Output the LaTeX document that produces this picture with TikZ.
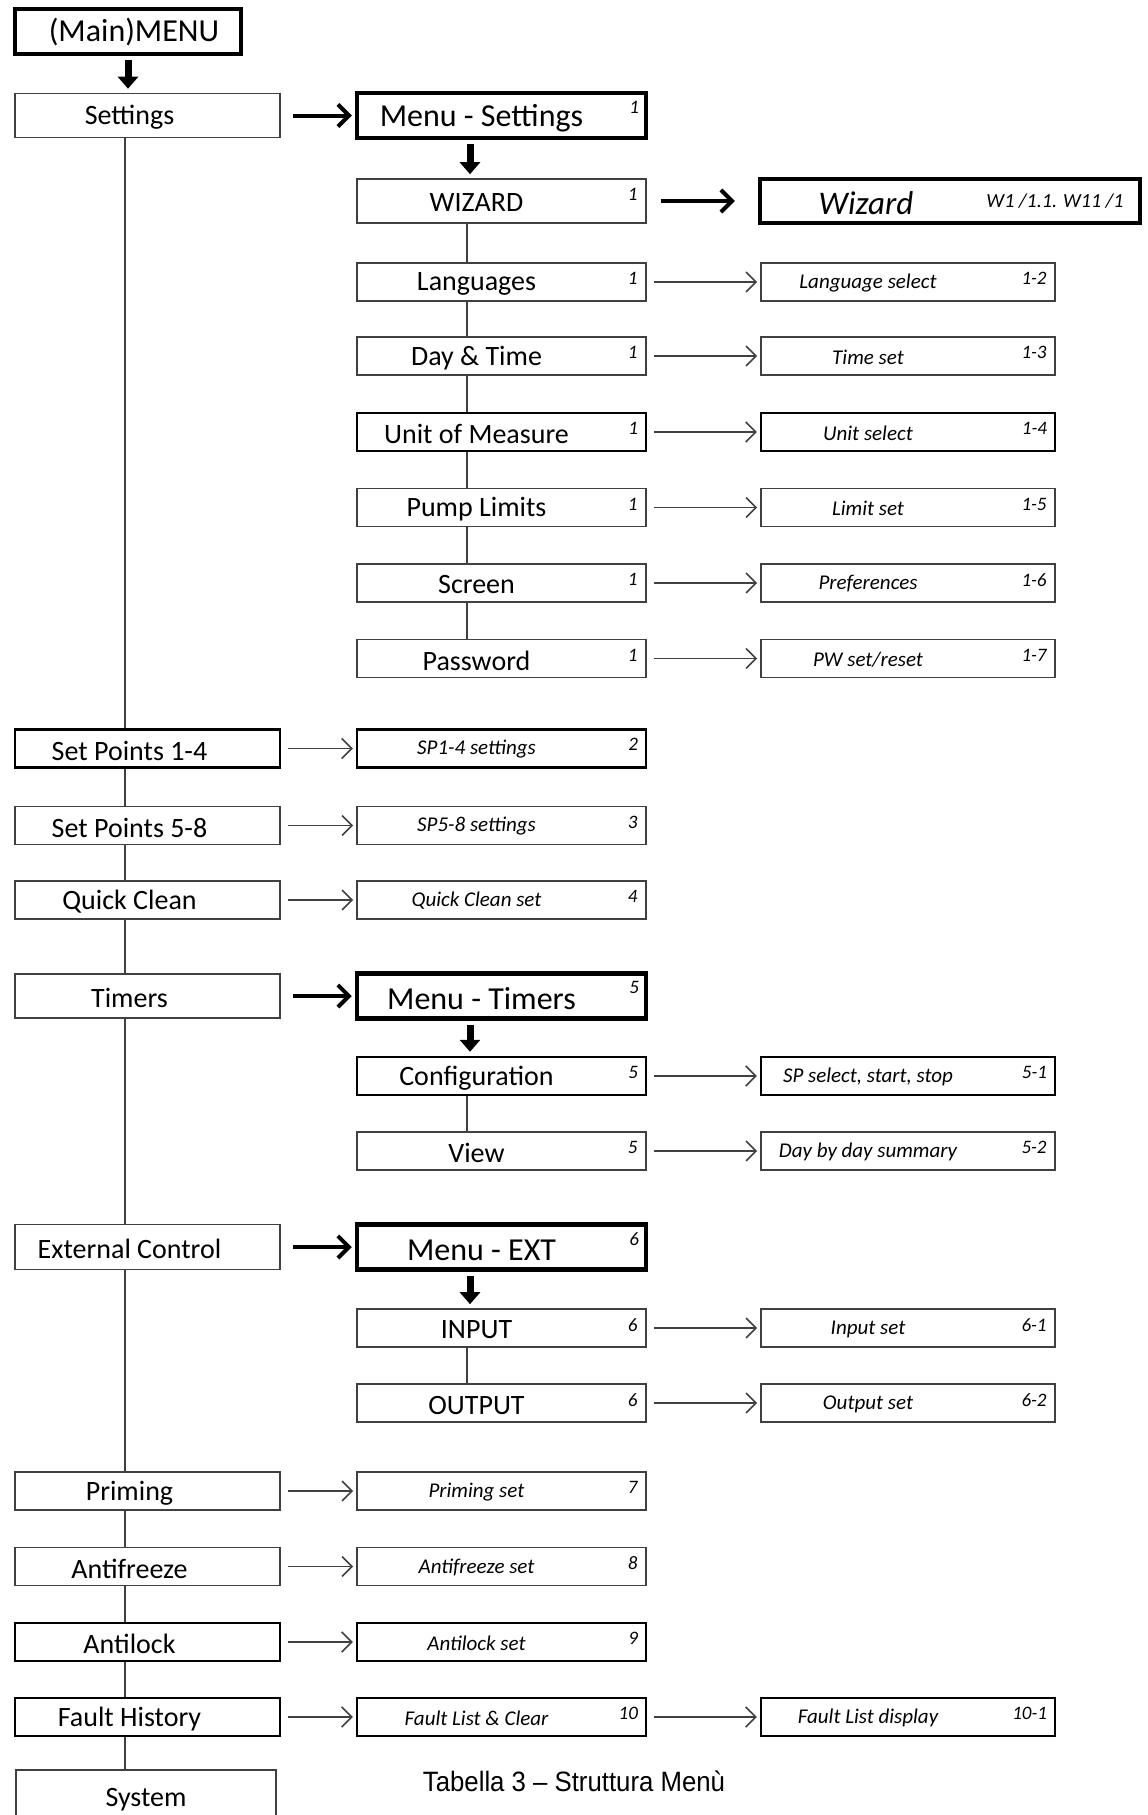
\documentclass[tikz,border=0pt]{standalone}
\usepackage{fontspec}
\setmainfont{Carlito}
\newfontfamily\capfont[FakeStretch=0.92]{Liberation Sans}
\usetikzlibrary{arrows.meta}

\tikzset{
  % caselle
  box/.style={draw=black!75, line width=1.6pt, fill=white, inner sep=0pt, minimum height=38pt},
  heavy/.style={draw=black, line width=2.4pt},
  menubox/.style={draw=black, line width=4.5pt, minimum height=45pt},
  % testi
  txt/.style={font=\fontsize{28}{30}\selectfont, inner sep=0pt, anchor=base, yshift=-2pt},
  bigtxt/.style={font=\fontsize{32}{34}\selectfont, inner sep=0pt, anchor=base, yshift=-3pt},
  itxt/.style={font=\fontsize{21}{24}\selectfont\itshape, inner sep=0pt, anchor=base, yshift=-1pt},
  num/.style={font=\fontsize{19}{22}\selectfont\itshape, inner sep=0pt, anchor=north east, xshift=-9pt, yshift=-10pt},
  % colonne
  lcol/.style={box, minimum width=265pt, label={[txt, xshift=-18pt]center:{#1}}},
  mcol/.style 2 args={box, minimum width=289pt, label={[txt, xshift=-25pt]center:{#1}}, label={[num]north east:{#2}}},
  mset/.style 2 args={box, minimum width=289pt, label={[itxt, xshift=-25pt]center:{#1}}, label={[num]north east:{#2}}},
  mmenu/.style 2 args={box, menubox, minimum width=289pt, label={[bigtxt, xshift=-20pt]center:{#1}}, label={[num]north east:{#2}}},
  rcol/.style 2 args={box, minimum width=294pt, label={[itxt, xshift=-40pt]center:{#1}}, label={[num]north east:{#2}}},
  % collegamenti
  link/.style={draw=black!75, line width=1.4pt},
  tarr/.style={draw=black!75, line width=1.6pt, -{Straight Barb[length=10pt, width=20pt]}, shorten <=7pt, shorten >=3pt},
  barr/.style={line width=4pt, -{Straight Barb[length=11pt, width=22pt]}, shorten <=12pt, shorten >=3pt},
  darr/.style={line width=7pt, -{Triangle[length=12pt, width=20pt]}, shorten <=4pt, shorten >=4pt},
}

\begin{document}
\begin{tikzpicture}[x=1pt, y=-1pt]
  \clip (0,0) rectangle (1148,1815);
  % colonna sinistra
  \node[box, menubox, minimum width=226pt, label={[bigtxt, xshift=6pt, yshift=2pt]center:{(Main)MENU}}] (main) at (128,31.5) {};
  \node[lcol=Settings, minimum height=44pt] (settings) at (147.5,115.5) {};
  \node[lcol={Set Points 1-4}, heavy] (sp14) at (147.5,748.5) {};
  \node[lcol={Set Points 5-8}] (sp58) at (147.5,825.5) {};
  \node[lcol={Quick Clean}] (quick) at (147.5,900) {};
  \node[lcol=Timers, minimum height=44pt] (timers) at (147.5,996) {};
  \node[lcol={External Control}, minimum height=45pt] (ext) at (147.5,1247) {};
  \node[lcol=Priming] (priming) at (147.5,1491) {};
  \node[lcol=Antifreeze] (antifreeze) at (147.5,1566.5) {};
  \node[lcol=Antilock, heavy] (antilock) at (147.5,1642) {};
  \node[lcol={Fault History}, heavy] (fault) at (147.5,1717) {};
  \node[box, minimum width=260pt, minimum height=60pt, label={[txt, yshift=2pt]center:System}] (system) at (146,1800) {};

  % colonna centrale
  \node[mmenu={Menu - Settings}{1}] (msettings) at (501.5,115.5) {};
  \node[mcol={WIZARD}{1}, minimum height=44pt] (wizard) at (501.5,201) {};
  \node[mcol={Languages}{1}] (lang) at (501.5,282) {};
  \node[mcol={Day \& Time}{1}] (daytime) at (501.5,356) {};
  \node[mcol={Unit of Measure}{1}, heavy] (unit) at (501.5,432) {};
  \node[mcol={Pump Limits}{1}] (pump) at (501.5,507.5) {};
  \node[mcol={Screen}{1}] (screen) at (501.5,583) {};
  \node[mcol={Password}{1}] (password) at (501.5,658.5) {};
  \node[mset={SP1-4 settings}{2}, heavy] (sp14set) at (501.5,748.5) {};
  \node[mset={SP5-8 settings}{3}] (sp58set) at (501.5,825.5) {};
  \node[mset={Quick Clean set}{4}] (quickset) at (501.5,900) {};
  \node[mmenu={Menu - Timers}{5}] (mtimers) at (501.5,996) {};
  \node[mcol={Configuration}{5}, heavy] (config) at (501.5,1076) {};
  \node[mcol={View}{5}] (view) at (501.5,1151) {};
  \node[mmenu={Menu - EXT}{6}] (mext) at (501.5,1247) {};
  \node[mcol={INPUT}{6}] (input) at (501.5,1328) {};
  \node[mcol={OUTPUT}{6}] (output) at (501.5,1403) {};
  \node[mset={Priming set}{7}] (primingset) at (501.5,1491) {};
  \node[mset={Antifreeze set}{8}] (antifreezeset) at (501.5,1566.5) {};
  \node[mset={Antilock set}{9}, heavy] (antilockset) at (501.5,1642) {};
  \node[mset={Fault List \& Clear}{10}, heavy] (faultset) at (501.5,1717) {};

  % colonna destra
  \node[box, menubox, minimum width=380pt, minimum height=44pt,
    label={[font=\fontsize{33}{36}\selectfont\itshape, inner sep=0pt, anchor=base, xshift=-84pt, yshift=-2pt]center:Wizard},
    label={[font=\fontsize{20}{22}\selectfont\itshape, inner sep=0pt, xshift=105pt]center:{W1 /1.1. W11 /1}}] (wizbox) at (950,201) {};
  \node[rcol={Language select}{1-2}] (langsel) at (908,282) {};
  \node[rcol={Time set}{1-3}] (timeset) at (908,356) {};
  \node[rcol={Unit select}{1-4}, heavy] (unitsel) at (908,432) {};
  \node[rcol={Limit set}{1-5}] (limitset) at (908,507.5) {};
  \node[rcol={Preferences}{1-6}] (prefs) at (908,583) {};
  \node[rcol={PW set/reset}{1-7}] (pwset) at (908,658.5) {};
  \node[rcol={SP select, start, stop}{5-1}, heavy] (spsel) at (908,1076) {};
  \node[rcol={Day by day summary}{5-2}] (summary) at (908,1151) {};
  \node[rcol={Input set}{6-1}] (inset) at (908,1328) {};
  \node[rcol={Output set}{6-2}] (outset) at (908,1403) {};
  \node[rcol={Fault List display}{10-1}, heavy] (faultdisp) at (908,1717) {};

  % linee verticali
  \coordinate (lsp) at (125,0);
  \coordinate (msp) at (467,0);
  \coordinate (dsp) at (470,0);
  \foreach \a/\b in {settings/sp14, sp14/sp58, sp58/quick, quick/timers, timers/ext, ext/priming,
                     priming/antifreeze, antifreeze/antilock, antilock/fault, fault/system}
    \draw[link] (\a.south -| lsp) -- (\b.north -| lsp);
  \foreach \a/\b in {wizard/lang, lang/daytime, daytime/unit, unit/pump, pump/screen,
                     screen/password, config/view, input/output}
    \draw[link] (\a.south -| msp) -- (\b.north -| msp);

  % frecce grosse
  \draw[darr] (main) -- (main |- settings.north);
  \draw[darr] (msettings.south -| dsp) -- (wizard.north -| dsp);
  \draw[darr] (mtimers.south -| dsp) -- (config.north -| dsp);
  \draw[darr] (mext.south -| dsp) -- (input.north -| dsp);
  \draw[barr] (settings) -- (msettings);
  \draw[barr] (timers) -- (mtimers);
  \draw[barr] (ext) -- (mext);
  \draw[barr, shorten <=14pt, shorten >=23pt] (wizard) -- (wizbox);

  % frecce sottili
  \foreach \a/\b in {lang/langsel, daytime/timeset, unit/unitsel, pump/limitset, screen/prefs,
                     password/pwset, config/spsel, view/summary, input/inset, output/outset,
                     faultset/faultdisp, sp14/sp14set, sp58/sp58set, quick/quickset,
                     priming/primingset, antifreeze/antifreezeset, antilock/antilockset, fault/faultset}
    \draw[tarr] (\a) -- (\b);

  % didascalia
  \node[font=\capfont\fontsize{28}{30}\selectfont] (caption) at (574,1781) {Tabella 3 – Struttura Menù};
\end{tikzpicture}
\end{document}
